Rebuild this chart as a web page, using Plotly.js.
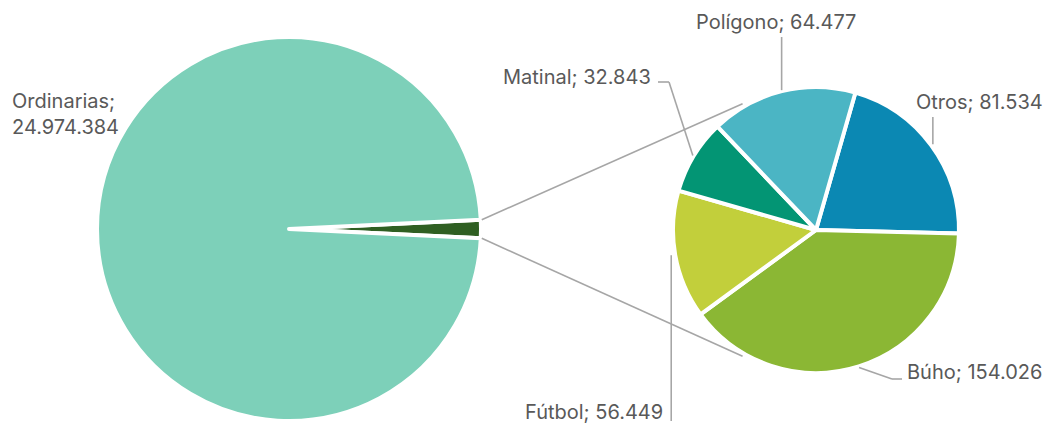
<!DOCTYPE html>
<html>
<head>
<meta charset="utf-8">
<script src="https://cdn.plot.ly/plotly-3.0.1.min.js"></script>
<style>html,body{margin:0;padding:0;background:#fff;}#chart{width:1051px;height:423px;}</style>
</head>
<body>
<div id="chart"></div>
<script>
// ---- data ----
var mainLabels = ["Otros", "Ordinarias"];
var subLabels = ["Otros", "Búho", "Fútbol", "Matinal", "Polígono"];
var subValues = [81534, 154026, 56449, 32843, 64477];
var ordinariasValue = 24974384;
var otrosTotal = subValues.reduce(function(a, b){ return a + b; }, 0);
var mainValues = [otrosTotal, ordinariasValue];

var mainColors = ["#2f5f22", "#7dd0b9"];
var subColors = ["#0b88b3", "#8bb734", "#c2cf3b", "#039574", "#4bb5c4"];

// ---- geometry ----
var W = 1051, H = 423;
function px(x){ return x / W; }
function py(y){ return 1 - y / H; }
var LC = {x: 289, y: 229, r: 192};
var RC = {x: 816, y: 230, r: 143};
function dom(c){ return {x: [px(c.x - c.r), px(c.x + c.r)], y: [py(c.y + c.r), py(c.y - c.r)]}; }
function pt(c, deg, rr){ var a = deg * Math.PI / 180; return {x: c.x + rr * Math.sin(a), y: c.y - rr * Math.cos(a)}; }

var mainTotal = mainValues[0] + mainValues[1];
var smallAngle = 360 * mainValues[0] / mainTotal;
var mainRotation = 90 - smallAngle / 2;
var subRotation = 16;

// mid-angles of sub slices
var subTotal = otrosTotal, acc = subRotation, subMid = [];
for (var i = 0; i < subValues.length; i++) {
  var span = 360 * subValues[i] / subTotal;
  subMid.push(acc + span / 2);
  acc += span;
}

var grey = "#a6a6a6";
var shapes = [];
function seg(p, q){
  shapes.push({type: "line", xref: "paper", yref: "paper", x0: px(p.x), y0: py(p.y), x1: px(q.x), y1: py(q.y),
    line: {color: grey, width: 1.6}});
}
// connectors between pies
var l0 = pt(LC, mainRotation, LC.r + 1), l1 = pt(LC, mainRotation + smallAngle, LC.r + 1);
var r0 = pt(RC, -30.2, RC.r + 3), r1 = pt(RC, 210.2, RC.r + 3);
seg(l0, r0); seg(l1, r1);

// leader lines
var aOtros = pt(RC, subMid[0], RC.r + 2);
var aBuho = pt(RC, subMid[1], RC.r + 1);
var aFutbol = pt(RC, subMid[2], RC.r + 1);
var aMatinal = pt(RC, subMid[3], RC.r + 1);
var aPoligono = pt(RC, subMid[4], RC.r + 1);
seg(aOtros, {x: aOtros.x, y: 117});
seg(aPoligono, {x: aPoligono.x, y: 37});
seg({x: aFutbol.x - 3, y: aFutbol.y}, {x: aFutbol.x - 3, y: 421});
seg(aBuho, {x: 892, y: 379}); seg({x: 892, y: 379}, {x: 902, y: 379});
seg(aMatinal, {x: 669, y: 82}); seg({x: 669, y: 82}, {x: 658, y: 82});

function fmt(v){ return v.toString().replace(/\B(?=(\d{3})+(?!\d))/g, "."); }
var font = {family: "Inter, Lato, sans-serif", size: 20, color: "#595959"};
function ann(text, x, y, xa, align){
  return {text: text, xref: "paper", yref: "paper", x: px(x), y: py(y), xanchor: xa, yanchor: "middle",
    showarrow: false, font: font, align: align || xa};
}
var annotations = [
  ann(mainLabels[1] + ";<br>" + fmt(ordinariasValue), 10, 114, "left"),
  ann(subLabels[4] + "; " + fmt(subValues[4]), 776, 22, "center"),
  ann(subLabels[0] + "; " + fmt(subValues[0]), 914, 102, "left"),
  ann(subLabels[3] + "; " + fmt(subValues[3]), 653, 77, "right"),
  ann(subLabels[1] + "; " + fmt(subValues[1]), 905, 372, "left"),
  ann(subLabels[2] + "; " + fmt(subValues[2]), 665, 412, "right")
];

var traces = [
  {type: "pie", labels: mainLabels, values: mainValues, sort: false, direction: "clockwise",
   rotation: mainRotation, domain: dom(LC), textinfo: "none", hoverinfo: "label+value",
   marker: {colors: mainColors, line: {color: "#ffffff", width: 4}}},
  {type: "pie", labels: subLabels, values: subValues, sort: false, direction: "clockwise",
   rotation: subRotation, domain: dom(RC), textinfo: "none", hoverinfo: "label+value",
   marker: {colors: subColors, line: {color: "#ffffff", width: 4}}}
];

Plotly.newPlot("chart", traces, {
  width: W, height: H, margin: {l: 0, r: 0, t: 0, b: 0},
  paper_bgcolor: "#ffffff", showlegend: false,
  shapes: shapes, annotations: annotations
}, {displayModeBar: false, staticPlot: true});
</script>
</body>
</html>
